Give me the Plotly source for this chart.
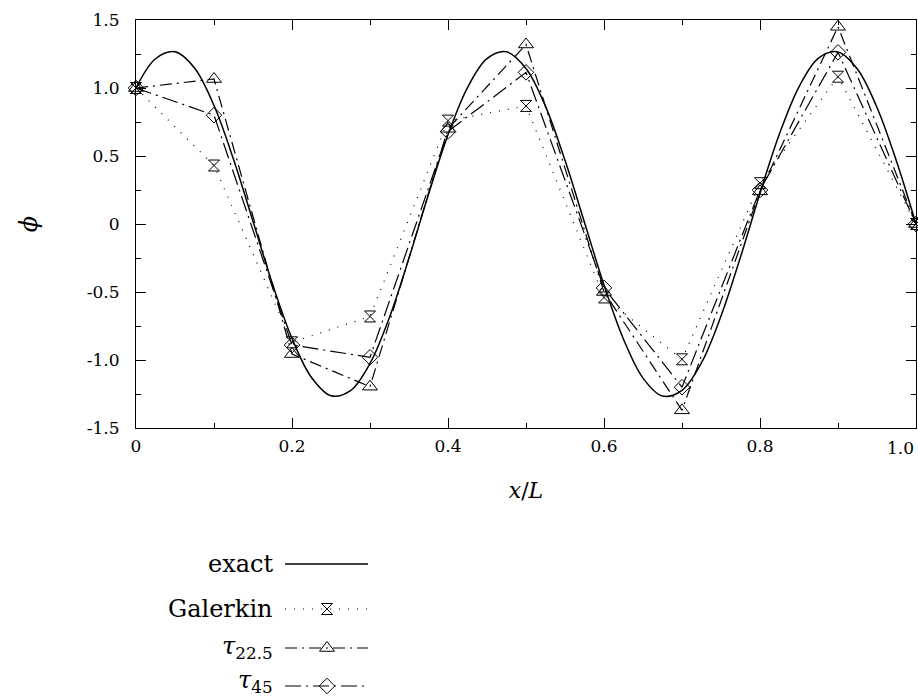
import plotly.graph_objects as go

# ---- data ----
exact_x = [0.0, 0.025, 0.05, 0.075, 0.1, 0.125, 0.15, 0.175, 0.2, 0.225,
           0.25, 0.275, 0.3, 0.325, 0.35, 0.375, 0.4, 0.425, 0.45, 0.475,
           0.5, 0.525, 0.55, 0.575, 0.6, 0.625, 0.65, 0.675, 0.7, 0.725,
           0.75, 0.775, 0.8, 0.825, 0.85, 0.875, 0.9, 0.925, 0.95, 0.975, 1.0]
exact_phi = [1.00, 1.215, 1.266, 1.147, 0.871, 0.476, 0.020, -0.441, -0.841, -1.129,
             -1.263, -1.225, -1.025, -0.685, -0.251, 0.218, 0.656, 1.003, 1.216, 1.266,
             1.143, 0.865, 0.468, 0.011, -0.449, -0.847, -1.133, -1.265, -1.223, -1.020,
             -0.677, -0.243, 0.226, 0.663, 1.009, 1.220, 1.265, 1.138, 0.857, 0.461, 0.0]

node_x = [0.0, 0.1, 0.2, 0.3, 0.4, 0.5, 0.6, 0.7, 0.8, 0.9, 1.0]
galerkin = [1.0, 0.43, -0.87, -0.68, 0.76, 0.868, -0.54, -0.995, 0.30, 1.083, 0.0]
tau_225 = [1.0, 1.066, -0.956, -1.196, 0.70, 1.32, -0.50, -1.37, 0.24, 1.45, 0.0]
tau_45 = [1.0, 0.80, -0.89, -0.98, 0.68, 1.115, -0.47, -1.20, 0.25, 1.262, 0.0]

x_tickvals = [0.0, 0.2, 0.4, 0.6, 0.8, 1.0]
x_ticktext = ["0", "0.2", "0.4", "0.6", "0.8", ""]
x_last_label = "1.0"      # drawn right-aligned at the last tick so it stays inside the figure
y_tickvals = [1.5, 1.0, 0.5, 0.0, -0.5, -1.0, -1.5]
y_ticktext = ["1.5", "1.0", "0.5", "0", "-0.5", "-1.0", "-1.5"]

legend_labels = ["exact", "Galerkin", "<i>τ</i><sub>22.5</sub>", "<i>τ</i><sub>45</sub>"]
legend_rows = [34, 79, 118, 156]       # legend-axis units (pixels below its top)
legend_text_shift = [0, 0, 1, 5]
legend_line = [149, 232]               # legend-axis units (pixels from plot left)
legend_mark = 191
legend_text_x = 139

FONT = "DejaVu Serif"
dash_dot = "12px,5px,2px,5px"
dash_dot2 = "16px,5px,2px,5px"

styles = [
    dict(name="exact", dash="solid", width=1.5, symbol=None),
    dict(name="Galerkin", dash="1px,8px", width=1.2, symbol="hourglass-open"),
    dict(name="tau22.5", dash=dash_dot, width=1.2, symbol="triangle-up-open"),
    dict(name="tau45", dash=dash_dot2, width=1.2, symbol="diamond-open"),
]
marker_sizes = {1: 11, 2: 13, 3: 12}

fig = go.Figure()

fig.add_trace(go.Scatter(x=exact_x, y=exact_phi, mode="lines",
                         line=dict(color="black", width=1.5, shape="spline", smoothing=1.0),
                         showlegend=False, cliponaxis=False))

for i, vals in [(1, galerkin), (2, tau_225), (3, tau_45)]:
    st = styles[i]
    fig.add_trace(go.Scatter(x=node_x, y=vals, mode="lines+markers",
                             line=dict(color="black", width=st["width"], dash=st["dash"]),
                             marker=dict(symbol=st["symbol"], size=marker_sizes[i], color="black",
                                         line=dict(width=1, color="black")),
                             showlegend=False, cliponaxis=False))

# ---- custom legend (text left, sample right) on its own axes ----
for i, st in enumerate(styles):
    row = legend_rows[i]
    fig.add_trace(go.Scatter(x=legend_line, y=[row, row], mode="lines",
                             line=dict(color="black", width=st["width"], dash=st["dash"]),
                             xaxis="x2", yaxis="y2", showlegend=False, hoverinfo="skip"))
    if st["symbol"]:
        fig.add_trace(go.Scatter(x=[legend_mark], y=[row], mode="markers",
                                 marker=dict(symbol=st["symbol"], size=marker_sizes[i], color="black",
                                             line=dict(width=1, color="black")),
                                 xaxis="x2", yaxis="y2", showlegend=False, hoverinfo="skip"))
    fig.add_annotation(x=legend_text_x, y=row, xref="x2", yref="y2", text=legend_labels[i],
                       showarrow=False, xanchor="right", yanchor="middle",
                       yshift=legend_text_shift[i],
                       font=dict(family=FONT, size=24, color="black"))

# last x tick label, right-aligned to its tick
fig.add_annotation(x=x_tickvals[-1], y=-1.5, xref="x", yref="y", text=x_last_label,
                   showarrow=False, xanchor="right", yanchor="top", yshift=-8,
                   font=dict(family=FONT, size=17, color="black"))

axis_common = dict(showgrid=False, zeroline=False, showline=True, linecolor="black",
                   linewidth=1, mirror="ticks", ticks="inside", ticklen=10, tickwidth=1,
                   automargin=False,
                   tickcolor="black", tickfont=dict(family=FONT, size=17, color="black"))

fig.update_layout(
    width=918, height=700,
    margin=dict(l=136, r=2, t=20, b=0, autoexpand=False),
    paper_bgcolor="white", plot_bgcolor="white",
    xaxis=dict(range=[0, 1.0], domain=[0, 1], tickvals=x_tickvals, ticktext=x_ticktext,
               minor=dict(dtick=0.1, tick0=0, ticks="inside", ticklen=5, tickcolor="black"),
               title=dict(text="<i>x</i>/<i>L</i>", font=dict(family=FONT, size=22, color="black"),
                          standoff=27),
               ticklabelstandoff=3,
               **axis_common),
    yaxis=dict(range=[-1.5, 1.5], domain=[272 / 680, 1], tickvals=y_tickvals, ticktext=y_ticktext,
               minor=dict(dtick=0.25, tick0=0, ticks="inside", ticklen=5, tickcolor="black"),
               title=dict(text="<i>ϕ</i>", font=dict(family=FONT, size=24, color="black"),
                          standoff=42),
               ticklabelstandoff=12,
               **axis_common),
    xaxis2=dict(range=[0, 780], domain=[0, 1], anchor="y2", visible=False, fixedrange=True,
                automargin=False),
    yaxis2=dict(range=[170, 0], domain=[0, 170 / 680], anchor="x2", visible=False, fixedrange=True,
                automargin=False),
    font=dict(family=FONT, color="black"),
)

# remove the default page margin so the figure starts at the window's corner
fig.write_html("out.html", config={"displayModeBar": False},
               post_script="document.body.style.margin='0';document.body.style.overflow='hidden';")
